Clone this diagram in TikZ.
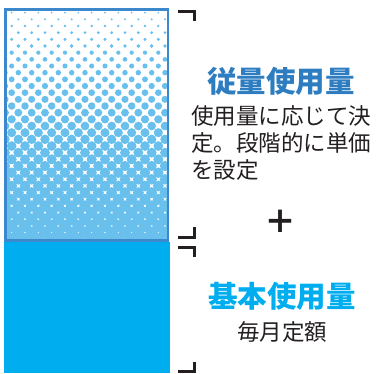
\documentclass[tikz,border=0pt]{standalone}
\usepackage{fontspec}
\setmainfont{Noto Sans CJK JP}
\definecolor{frameblue}{RGB}{59,136,204}
\definecolor{baseblue}{RGB}{0,174,239}
\definecolor{dotblue}{RGB}{105,192,236}
\definecolor{titleblue}{RGB}{46,125,192}
\definecolor{inkgray}{RGB}{35,31,32}

\begin{document}
\begin{tikzpicture}[x=1pt,y=-1pt,
		bracketline/.style={draw=inkgray,line width=3pt},
		headline/.style={font=\fontsize{29.5}{30}\selectfont\bfseries,inner sep=0pt},
		bodytext/.style={font=\fontsize{22.5}{27}\selectfont,text=inkgray,inner sep=0pt}]
		\useasboundingbox (0,0) rectangle (377,373);
		% halftone block
		\begin{scope}
			\clip (5.5,9.5) rectangle (168,240.5);
			\foreach \r in {0,...,36}
				\foreach \c in {0,...,13}{
					\pgfmathsetmacro\yy{6+\r*6.667}
					\pgfmathsetmacro\xx{5+\c*13.333+mod(\r,2)*6.667}
					\pgfmathsetmacro\rr{min(0.8+0.03*(\yy-8),4.76+0.015*(\yy-140))}
					\fill[dotblue] (\xx,\yy) circle (\rr);
				}
		\end{scope}
		\draw[frameblue,line width=2.6pt] (5.5,9.5) rectangle (168,240.5);
		\fill[baseblue] (4,242) rectangle (169.5,373);
		% brackets
		\draw[bracketline] (178,11.5) -- (194.5,11.5) -- (194.5,21);
		\draw[bracketline] (178,237) -- (194.5,237) -- (194.5,227);
		\draw[bracketline] (178,247.5) -- (194.5,247.5) -- (194.5,257);
		\draw[bracketline] (178,371.5) -- (194.5,371.5) -- (194.5,362);
		% texts
		\node[headline,text=titleblue] (usage) at (281,81) {従量使用量};
		\node[bodytext,align=left,anchor=north west] (usagenote) at (191,105.7) {使用量に応じて決\\定。段階的に単価\\を設定};
		\node[font=\fontsize{32}{32}\selectfont\bfseries,text=inkgray,inner sep=0pt] (plus) at (280.5,222) {＋};
		\node[headline,text=baseblue] (base) at (282,296) {基本使用量};
		\node[bodytext] (basenote) at (282,331.5) {毎月定額};
\end{tikzpicture}
\end{document}
